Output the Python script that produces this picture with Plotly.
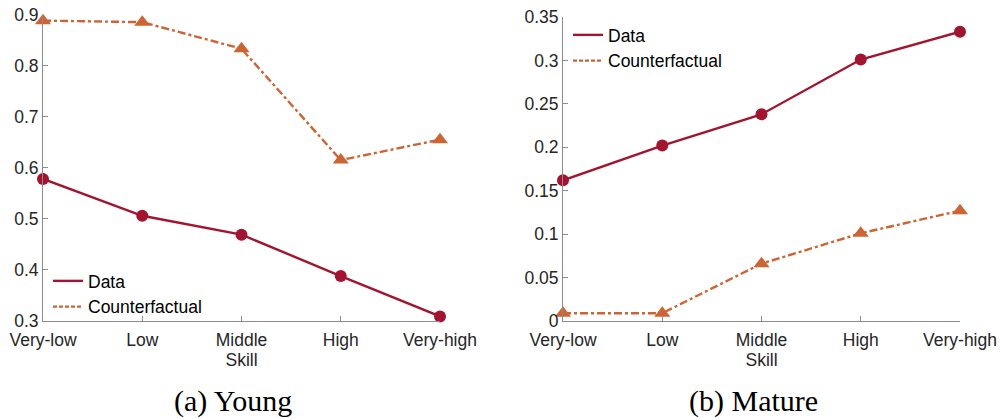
import plotly.graph_objects as go

skills = ["Very-low", "Low", "Middle", "High", "Very-high"]
young_data = [0.578, 0.506, 0.469, 0.388, 0.309]
young_cf = [0.888, 0.885, 0.833, 0.615, 0.655]
mature_data = [0.162, 0.202, 0.238, 0.301, 0.333]
mature_cf = [0.009, 0.009, 0.066, 0.101, 0.127]
young_yticks = [0.3, 0.4, 0.5, 0.6, 0.7, 0.8, 0.9]
mature_yticks = [0, 0.05, 0.1, 0.15, 0.2, 0.25, 0.3, 0.35]
captions = ["(a) Young", "(b) Mature"]

RED = "#A2142F"
ORANGE = "#CC6434"
AXC = "#8c8c8c"
TXT = "#262626"
FONT = "Liberation Sans, Arial, sans-serif"
DASH = "8px,3px,3px,3px"

xpos = list(range(len(skills)))
fig = go.Figure()

for i, (d, c) in enumerate([(young_data, young_cf), (mature_data, mature_cf)]):
    xa = "x" if i == 0 else "x2"
    ya = "y" if i == 0 else "y2"
    lg = "legend" if i == 0 else "legend2"
    fig.add_trace(go.Scatter(x=xpos, y=d, name="Data", mode="lines+markers",
                             line=dict(color=RED, width=2.4),
                             marker=dict(symbol="circle", size=12, color=RED),
                             xaxis=xa, yaxis=ya, showlegend=False, cliponaxis=False))
    fig.add_trace(go.Scatter(x=xpos, y=c, name="Counterfactual", mode="lines+markers",
                             line=dict(color=ORANGE, width=2.4, dash=DASH),
                             marker=dict(symbol="triangle-up", size=14, color=ORANGE),
                             xaxis=xa, yaxis=ya, showlegend=False, cliponaxis=False))
    # legend entries (lines only, as in the reference legend)
    fig.add_trace(go.Scatter(x=[None], y=[None], name="Data", mode="lines",
                             line=dict(color=RED, width=2.4),
                             xaxis=xa, yaxis=ya, legend=lg))
    fig.add_trace(go.Scatter(x=[None], y=[None], name="Counterfactual", mode="lines",
                             line=dict(color=ORANGE, width=2.4, dash="4px,2px"),
                             xaxis=xa, yaxis=ya, legend=lg))

common_x = dict(range=[0, 4], tickvals=xpos, ticktext=skills, showline=True,
                linecolor=AXC, linewidth=1, ticks="inside", ticklen=5, tickcolor=AXC,
                showgrid=False, zeroline=False, automargin=False, ticklabelstandoff=3,
                tickfont=dict(family=FONT, size=17.5, color=TXT),
                title=dict(text="Skill", font=dict(family=FONT, size=17.5, color=TXT), standoff=3))
common_y = dict(showline=True, linecolor=AXC, linewidth=1, ticks="inside", ticklen=5,
                tickcolor=AXC, showgrid=False, zeroline=False, automargin=False,
                tickfont=dict(family=FONT, size=17.5, color=TXT))

fig.update_layout(
    width=1003, height=419,
    margin=dict(l=0, r=0, t=0, b=0),
    paper_bgcolor="white", plot_bgcolor="white",
    xaxis=dict(domain=[43/1003, 440/1003], anchor="y", **common_x),
    xaxis2=dict(domain=[563/1003, 960/1003], anchor="y2", **common_x),
    yaxis=dict(domain=[(419-321)/419, (419-14.5)/419], anchor="x", range=[0.3, 0.9],
               tickvals=young_yticks, ticktext=[f"{v:g}" for v in young_yticks], **common_y),
    yaxis2=dict(domain=[(419-321)/419, (419-17)/419], anchor="x2", range=[0, 0.35],
                tickvals=mature_yticks, ticktext=[f"{v:g}" for v in mature_yticks], **common_y),
    legend=dict(x=48/1003, y=(419-263)/419, xanchor="left", yanchor="top",
                bgcolor="rgba(0,0,0,0)", itemwidth=30, tracegroupgap=0,
                font=dict(family=FONT, size=17.5, color="black")),
    legend2=dict(x=568/1003, y=(419-17)/419, xanchor="left", yanchor="top",
                 bgcolor="rgba(0,0,0,0)", itemwidth=30, tracegroupgap=0,
                 font=dict(family=FONT, size=17.5, color="black")),
    showlegend=True,
)

for cap, cx in zip(captions, [233, 753]):
    fig.add_annotation(text=cap, x=cx/1003, y=(419-401)/419, xref="paper", yref="paper",
                       xanchor="center", yanchor="middle", showarrow=False,
                       font=dict(family="Liberation Serif, Times New Roman, serif", size=30, color="black"))

fig.write_html("out.html", config={"displayModeBar": False},
               post_script="document.body.style.margin='0';document.body.style.overflow='hidden';")
